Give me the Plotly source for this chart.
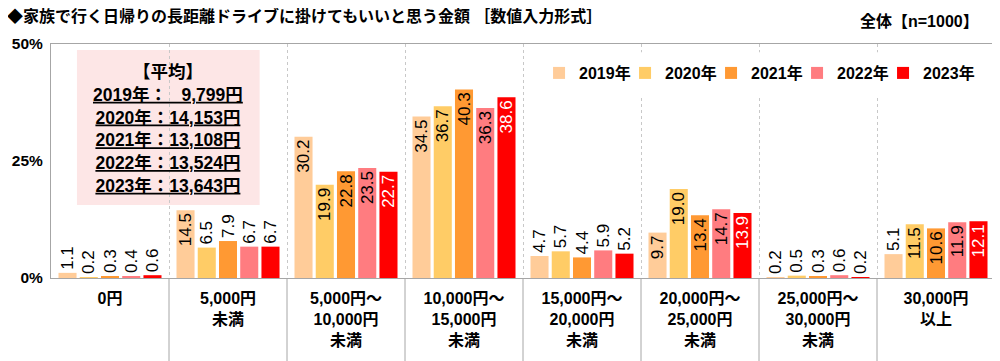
import plotly.graph_objects as go

categories = ["0円", "5,000円<br>未満", "5,000円～<br>10,000円<br>未満", "10,000円～<br>15,000円<br>未満",
              "15,000円～<br>20,000円<br>未満", "20,000円～<br>25,000円<br>未満", "25,000円～<br>30,000円<br>未満",
              "30,000円<br>以上"]
years = ["2019年", "2020年", "2021年", "2022年", "2023年"]
v2019 = [1.1, 14.5, 30.2, 34.5, 4.7, 9.7, 0.2, 5.1]
v2020 = [0.2, 6.5, 19.9, 36.7, 5.7, 19.0, 0.5, 11.5]
v2021 = [0.3, 7.9, 22.8, 40.3, 4.4, 13.4, 0.3, 10.6]
v2022 = [0.4, 6.7, 23.5, 36.3, 5.9, 14.7, 0.6, 11.9]
v2023 = [0.6, 6.7, 22.7, 38.6, 5.2, 13.9, 0.2, 12.1]
series = [v2019, v2020, v2021, v2022, v2023]
colors = ["#FFCC99", "#FFCC66", "#FF9933", "#FF7C80", "#FF0000"]
inside_text_colors = ["#000000", "#000000", "#000000", "#000000", "#FFFFFF"]
avg_title = "【平均】"
avg_lines = ["2019年：\u2007 9,799円", "2020年：14,153円", "2021年：13,108円", "2022年：13,524円", "2023年：13,643円"]
title_text = "◆家族で行く日帰りの長距離ドライブに掛けてもいいと思う金額 ［数値入力形式］"
sample_text = "全体【n=1000】"
yticks = [0, 25, 50]
yticklabels = ["0%", "25%", "50%"]

FONT = "Liberation Sans, Arial, Noto Sans CJK JP, sans-serif"
INSIDE_MIN = 9
LABEL_SIZE = 17
LEGEND_X0 = 0.517     # paper x of first legend entry
LEGEND_STEP = 0.0911  # paper spacing between legend entries
LEGEND_Y = 0.876

legend_names = ["legend"] + ["legend%d" % (k + 1) for k in range(1, len(years))]

fig = go.Figure()
for k, (name, vals, col, tcol) in enumerate(zip(years, series, colors, inside_text_colors)):
    pos = ["inside" if v >= INSIDE_MIN else "outside" for v in vals]
    tc = [tcol if v >= INSIDE_MIN else "#000000" for v in vals]
    fig.add_trace(go.Bar(
        name=name, x=categories, y=vals, marker=dict(color=col, line=dict(width=0)),
        texttemplate="%{y:.1f}", textposition=pos, textangle=-90,
        insidetextanchor="end", constraintext="none", cliponaxis=False,
        textfont=dict(family=FONT, size=LABEL_SIZE, color=tc),
        outsidetextfont=dict(family=FONT, size=LABEL_SIZE, color="#000000"),
        insidetextfont=dict(family=FONT, size=LABEL_SIZE, color=tc),
        legend=legend_names[k],
    ))

# separators below axis at category boundaries
for i in range(len(categories) - 1):
    fig.add_shape(type="line", xref="x", yref="paper", x0=i + 0.5, x1=i + 0.5, y0=0, y1=-0.4,
                  line=dict(color="#a6a6a6", width=1), layer="above")

# white backdrop behind the legend row (hides the dotted grid there)
fig.add_shape(type="rect", xref="paper", yref="paper", x0=0.519, x1=0.995, y0=0.775, y1=0.965,
              fillcolor="white", line=dict(width=0), layer="above")

# average box
fig.add_shape(type="rect", xref="paper", yref="paper", x0=0.0275, x1=0.221, y0=0.312, y1=0.974,
              fillcolor="#FDE6E6", line=dict(width=0), layer="below")
avg_text = "<b>" + avg_title + "</b><br>" + "<br>".join("<b><u>" + s + "</u></b>" for s in avg_lines)
fig.add_annotation(xref="paper", yref="paper", x=0.124, y=0.635, text=avg_text, showarrow=False,
                   align="center", xanchor="center", yanchor="middle",
                   font=dict(family=FONT, size=17.5, color="#000000"))

fig.add_annotation(xref="paper", yref="paper", x=-0.049, y=1.0, yshift=28, text="<b>" + title_text + "</b>",
                   showarrow=False, xanchor="left", yanchor="middle",
                   font=dict(family=FONT, size=16, color="#000000"))
fig.add_annotation(xref="paper", yref="paper", x=0.985, y=1.0, yshift=23, text="<b>" + sample_text + "</b>",
                   showarrow=False, xanchor="right", yanchor="middle",
                   font=dict(family=FONT, size=16, color="#000000"))

legend_font = dict(family=FONT, size=16, color="#000000", weight="bold")
legends = {}
for k, ln in enumerate(legend_names):
    legends[ln] = dict(orientation="h", x=LEGEND_X0 + k * LEGEND_STEP, y=LEGEND_Y,
                       xanchor="left", yanchor="middle", bgcolor="rgba(0,0,0,0)",
                       font=legend_font, itemwidth=30)

# the page body has an 8px margin: size the figure so the plot lands at x 51-995, y 44-278
fig.update_layout(
    width=992, height=353,
    margin=dict(l=43, r=5, t=36, b=83, autoexpand=False),
    paper_bgcolor="white", plot_bgcolor="white",
    barmode="group", bargap=0.1, bargroupgap=0.15,
    font=dict(family=FONT, color="#000000"),
    showlegend=True,
    **legends,
)
fig.update_xaxes(
    tickson="boundaries", showgrid=True, gridcolor="#c8c8c8", griddash="dot", gridwidth=1,
    ticks="", showline=True, linecolor="#a6a6a6", linewidth=1, mirror=True, automargin=False,
    tickfont=dict(family=FONT, size=16, color="#000000"), ticklabelstandoff=6,
    ticktext=["<b>" + c + "</b>" for c in categories], tickvals=categories,
)
fig.update_yaxes(
    range=[0, 50], tickvals=yticks, ticktext=["<b>" + t + "</b>" for t in yticklabels],
    showgrid=False, zeroline=False, showline=True, linecolor="#a6a6a6", linewidth=1, mirror=True,
    automargin=False, ticks="", tickfont=dict(family=FONT, size=15.5, color="#000000"),
    ticklabelstandoff=4,
)
fig.write_html("out.html")
